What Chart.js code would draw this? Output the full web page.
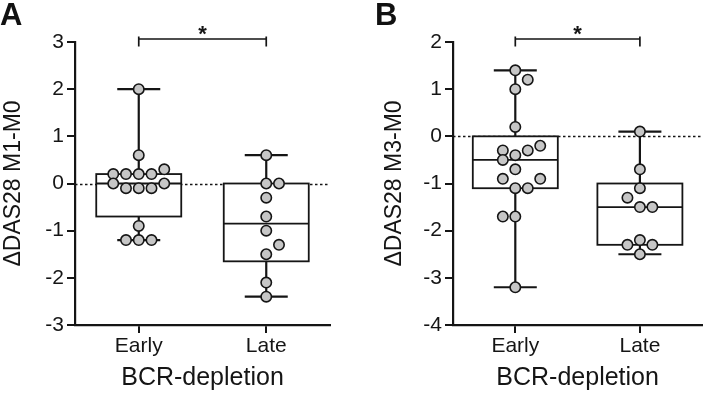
<!DOCTYPE html>
<html><head><meta charset="utf-8">
<script src="https://cdn.jsdelivr.net/npm/chart.js@4/dist/chart.umd.min.js"></script>
<style>
html,body{margin:0;padding:0;background:#fff;width:709px;height:393px;overflow:hidden;position:relative;font-family:"Liberation Sans",Arial,sans-serif}
.pl{position:absolute;font-weight:bold;font-size:31px;line-height:31px;color:#111}
#wa{position:absolute;left:0;top:0;width:355px;height:393px}
#wb{position:absolute;left:355px;top:0;width:354px;height:393px}
</style></head><body>
<div id="wa"><canvas id="ca" width="355" height="393"></canvas></div>
<div id="wb"><canvas id="cb" width="354" height="393"></canvas></div>
<div class="pl" style="left:0;top:-1px">A</div>
<div class="pl" style="left:375px;top:-1px">B</div>
<script>
// ---- data ----
const groups = ['Early', 'Late'];
const xTitle = 'BCR-depletion';
const yTitleA = 'ΔDAS28 M1-M0';
const yTitleB = 'ΔDAS28 M3-M0';
const yTicksA = [-3, -2, -1, 0, 1, 2, 3];
const yTicksB = [-4, -3, -2, -1, 0, 1, 2];
const sigLabel = '*';

const earlyA = [2.0, 0.6, 0.2, 0.2, 0.2, 0.2, 0.3, 0, 0, -0.1, -0.1, -0.1, -0.9, -1.2, -1.2, -1.2];
const earlyAcols = [0, 0, -2, -1, 0, 1, 2, -2, 2, -1, 0, 1, 0, -1, 0, 1];
const lateA = [0.6, 0, 0, -0.3, -0.7, -1.0, -1.3, -1.5, -2.1, -2.4];
const lateAcols = [0, 0, 1, 0, 0, 0, 1, 0, 0, 0];

const earlyB = [1.4, 1.2, 1.0, 0.2, -0.2, -0.3, -0.3, -0.4, -0.5, -0.7, -0.9, -0.9, -1.1, -1.1, -1.7, -1.7, -3.2];
const earlyBcols = [0, 1, 0, 0, 2, -1, 1, 0, -1, 0, -1, 2, 0, 1, -1, 0, 0];
const lateB = [0.1, -0.7, -1.1, -1.3, -1.5, -1.5, -2.2, -2.3, -2.3, -2.5];
const lateBcols = [0, 0, 0, -1, 0, 1, 0, -1, 1, 0];

// ---- style ----
const INK = '#151515';
const COL_STEP = 0.1;
const FONT = '"Liberation Sans", Arial, sans-serif';

function quant(s, p) {
  const pos = (s.length + 1) * p;
  const lo = Math.floor(pos), hi = Math.ceil(pos);
  if (lo < 1) return s[0];
  if (hi > s.length) return s[s.length - 1];
  return s[lo - 1] + (pos - lo) * (s[hi - 1] - s[lo - 1]);
}
function stats(v) {
  const s = v.slice().sort((a, b) => a - b);
  return { min: s[0], max: s[s.length - 1], q1: quant(s, 0.25), med: quant(s, 0.5), q3: quant(s, 0.75) };
}

function makePlugin(series) {
  return {
    id: 'boxes',
    beforeDatasetsDraw(chart) {
      const { ctx, scales: { x, y }, chartArea } = chart;
      ctx.save();
      ctx.strokeStyle = INK;
      const seg = (x1, y1, x2, y2) => { ctx.beginPath(); ctx.moveTo(x1, y1); ctx.lineTo(x2, y2); ctx.stroke(); };
      ctx.setLineDash([2.5, 2.5]); ctx.lineWidth = 1.3;
      const y0 = Math.round(y.getPixelForValue(0)) + 0.5;
      seg(chartArea.left, y0, chartArea.right, y0);
      ctx.setLineDash([]);
      const boxHalf = 42.5, capHalf = 21.5;
      series.forEach((vals, i) => {
        const s = stats(vals);
        const cx = x.getPixelForValue(i);
        const pMax = y.getPixelForValue(s.max), pMin = y.getPixelForValue(s.min);
        const pQ1 = y.getPixelForValue(s.q1), pQ3 = y.getPixelForValue(s.q3), pMed = y.getPixelForValue(s.med);
        ctx.lineWidth = 2.2;
        seg(cx, pMax, cx, pQ3);
        seg(cx, pQ1, cx, pMin);
        seg(cx - capHalf, pMax, cx + capHalf, pMax);
        seg(cx - capHalf, pMin, cx + capHalf, pMin);
        ctx.fillStyle = '#fff';
        ctx.fillRect(cx - boxHalf, pQ3, boxHalf * 2, pQ1 - pQ3);
        ctx.lineWidth = 1.8;
        ctx.strokeRect(cx - boxHalf, pQ3, boxHalf * 2, pQ1 - pQ3);
        seg(cx - boxHalf, pMed, cx + boxHalf, pMed);
      });
      ctx.restore();
    },
    afterDraw(chart) {
      const { ctx, scales: { x }, chartArea } = chart;
      ctx.save();
      ctx.strokeStyle = INK; ctx.lineWidth = 1.7;
      const by = chartArea.top - 3;
      const x1 = x.getPixelForValue(0), x2 = x.getPixelForValue(1);
      ctx.beginPath();
      ctx.moveTo(x1, by - 2.5); ctx.lineTo(x1, by + 7.5);
      ctx.moveTo(x1, by); ctx.lineTo(x2, by);
      ctx.moveTo(x2, by - 2.5); ctx.lineTo(x2, by + 7.5);
      ctx.stroke();
      ctx.fillStyle = INK;
      ctx.font = 'bold 22px ' + FONT;
      ctx.textAlign = 'center'; ctx.textBaseline = 'alphabetic';
      ctx.fillText(sigLabel, (x1 + x2) / 2, by + 2);
      ctx.restore();
    }
  };
}

function pts(vals, cols, gi) {
  return vals.map((v, k) => ({ x: gi + cols[k] * COL_STEP, y: v }));
}

function build(id, series, colsList, yTicks, yTitle, yAxisWidth, titlePad, rightPad) {
  const datasets = series.map((vals, gi) => ({
    type: 'scatter',
    data: pts(vals, colsList[gi], gi),
    backgroundColor: '#c6c6c6',
    borderColor: INK,
    borderWidth: 1.6,
    pointRadius: 5.2,
    clip: false
  }));
  new Chart(document.getElementById(id), {
    type: 'scatter',
    data: { datasets },
    plugins: [makePlugin(series)],
    options: {
      responsive: false,
      animation: false,
      layout: { padding: { top: 42, right: rightPad, bottom: 0, left: 0 } },
      plugins: { legend: { display: false }, tooltip: { enabled: false } },
      scales: {
        x: {
          type: 'linear', min: -0.5, max: groups.length - 0.5,
          afterBuildTicks: (s) => { s.ticks = groups.map((g, i) => ({ value: i })); },
          afterFit: (s) => { s.height = 68; },
          ticks: { callback: (v) => groups[v], color: INK, padding: 1, font: { size: 21, family: FONT } },
          grid: { drawOnChartArea: false, drawTicks: true, tickLength: 8, color: INK, lineWidth: 2 },
          border: { display: true, color: INK, width: 2.2 },
          title: { display: true, text: xTitle, color: INK, font: { size: 25, family: FONT }, padding: { top: 0, bottom: 0 } }
        },
        y: {
          type: 'linear', min: yTicks[0], max: yTicks[yTicks.length - 1],
          afterBuildTicks: (s) => { s.ticks = yTicks.map(v => ({ value: v })); },
          afterFit: (s) => { s.width = yAxisWidth; },
          ticks: { color: INK, padding: 3, font: { size: 21, family: FONT } },
          grid: { drawOnChartArea: false, drawTicks: true, tickLength: 8, color: INK, lineWidth: 2 },
          border: { display: true, color: INK, width: 2.2 },
          title: { display: true, text: yTitle, color: INK, font: { size: 23, family: FONT }, padding: { top: titlePad, bottom: 0 } }
        }
      }
    }
  });
}

build('ca', [earlyA, lateA], [earlyAcols, lateAcols], yTicksA, yTitleA, 75, 0, 25);
build('cb', [earlyB, lateB], [earlyBcols, lateBcols], yTicksB, yTitleB, 98, 26, 1);
</script>
</body></html>
